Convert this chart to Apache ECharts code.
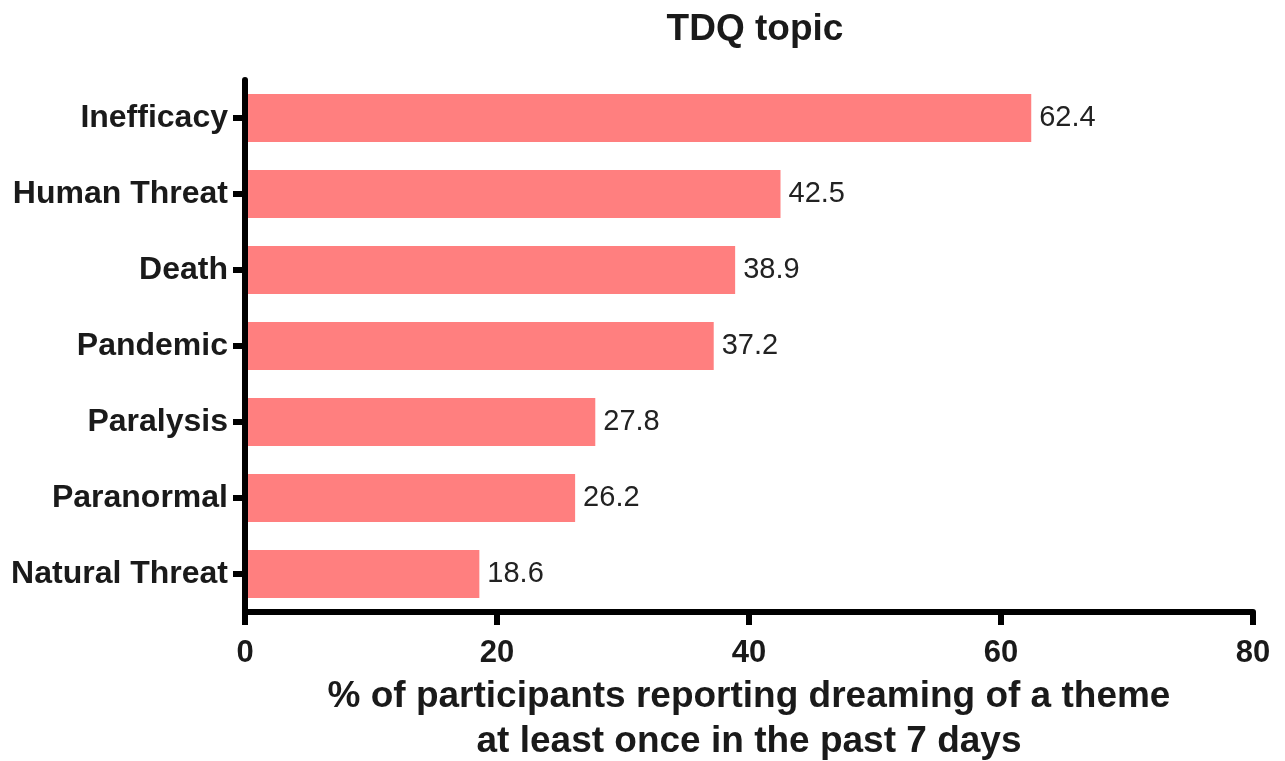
<!DOCTYPE html>
<html><head><meta charset="utf-8">
<script src="https://cdn.jsdelivr.net/npm/echarts@6/dist/echarts.min.js"></script>
<style>html,body{margin:0;padding:0;background:#fff}#c{width:1285px;height:761px}</style>
</head><body><div id="c"></div>
<script>
const categories = ['Natural Threat','Paranormal','Paralysis','Pandemic','Death','Human Threat','Inefficacy'];
const values = [18.6, 26.2, 27.8, 37.2, 38.9, 42.5, 62.4];
const xTicks = [0, 20, 40, 60, 80];
const chart = echarts.init(document.getElementById('c'));
chart.setOption({
  animation: false,
  title: {text: 'TDQ topic', left: 750, top: 6, textAlign: 'center',
    textStyle: {fontFamily: 'Liberation Sans', fontWeight: 'bold', fontSize: 37, color: '#1a1a1a'}},
  grid: {left: 245, right: 32, top: 80, bottom: 149, containLabel: false, outerBoundsMode: 'none'},
  xAxis: {type: 'value', min: 0, max: 80, interval: 20, z: 5,
    axisLine: {show: true, lineStyle: {color: '#000', width: 6}},
    axisTick: {show: true, length: 13, lineStyle: {color: '#000', width: 6}},
    splitLine: {show: false},
    axisLabel: {margin: 26, fontFamily: 'Liberation Sans', fontWeight: 'bold', fontSize: 31, color: '#1a1a1a',
      formatter: v => xTicks.includes(v) ? String(v) : ''},
    name: '% of participants reporting dreaming of a theme\nat least once in the past 7 days',
    nameLocation: 'middle', nameGap: 61,
    nameTextStyle: {fontFamily: 'Liberation Sans', fontWeight: 'bold', fontSize: 37, color: '#1a1a1a', lineHeight: 45}
  },
  yAxis: {type: 'category', data: categories, z: 5,
    axisLine: {show: true, lineStyle: {color: '#000', width: 6}},
    axisTick: {show: true, alignWithLabel: true, length: 12, lineStyle: {color: '#000', width: 6}},
    axisLabel: {margin: 17, fontFamily: 'Liberation Sans', fontWeight: 'bold', fontSize: 32, color: '#1a1a1a'}
  },
  series: [{type: 'bar', data: values, barWidth: 48,
    itemStyle: {color: '#FF7F7F'},
    label: {show: true, position: 'right', distance: 8, fontFamily: 'Liberation Sans', fontSize: 29, color: '#222',
      formatter: p => p.value.toFixed(1)}
  }]
});
</script></body></html>
